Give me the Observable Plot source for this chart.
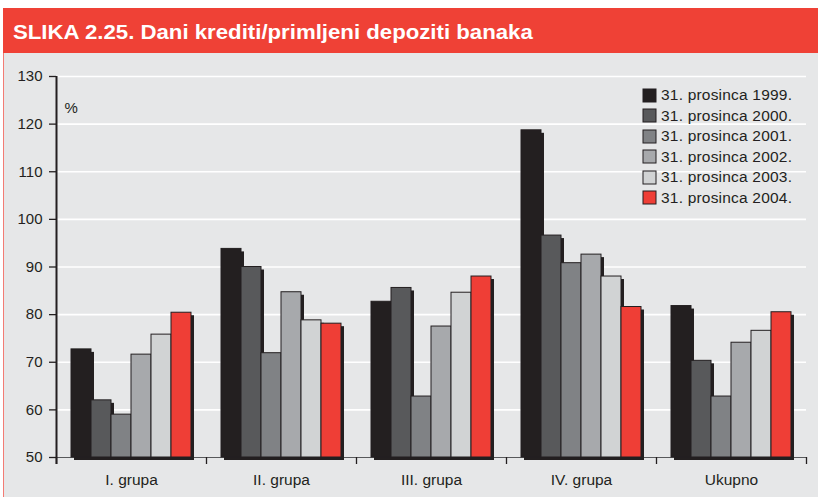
<!DOCTYPE html>
<html>
<head>
<meta charset="utf-8">
<script src="https://cdn.jsdelivr.net/npm/d3@7"></script>
<script src="https://cdn.jsdelivr.net/npm/@observablehq/plot@0.6"></script>
<style>
  html, body { margin: 0; padding: 0; background: #ffffff; }
  body { width: 818px; height: 497px; position: relative; overflow: hidden; font-family: "Liberation Sans", Arial, sans-serif; }
  #title { position: absolute; left: 3px; top: 8px; width: 815px; height: 45px; background: #ef4136; color: #fff;
    font-family: "Liberation Sans", Arial, sans-serif; font-weight: bold; font-size: 20px;
    box-sizing: border-box; padding-left: 9.5px; padding-top: 13px; line-height: 22px; white-space: nowrap; }
  #title span { display: inline-block; transform: scaleX(1.11); transform-origin: left center; }
  #panel { position: absolute; left: 3px; top: 53px; width: 815px; height: 444px; background: #e6e7e8; border-left: 1.5px solid #f37b74; box-sizing: border-box; }
  #chart { position: absolute; left: 0; top: 53px; }
  #legend { position: absolute; left: 643px; top: 85px; }
  #legend .lg-swatches { font-family: "Liberation Sans", Arial, sans-serif; font-size: 15.5px; color: #231f20; margin: 0; }
  #legend .lg-swatch { height: 20.5px; padding-bottom: 0; letter-spacing: 0.2px; }
  #legend .lg-swatch svg { margin-right: 5px; overflow: visible; }
  #legend .lg-swatch svg rect { stroke: #231f20; stroke-width: 1; }
</style>
</head>
<body>
<div id="title"><span>SLIKA 2.25. Dani krediti/primljeni depoziti banaka</span></div>
<div id="panel"></div>
<div id="chart"></div>
<div id="legend"></div>
<script>
const groups = ["I. grupa", "II. grupa", "III. grupa", "IV. grupa", "Ukupno"];
const years = ["31. prosinca 1999.", "31. prosinca 2000.", "31. prosinca 2001.", "31. prosinca 2002.", "31. prosinca 2003.", "31. prosinca 2004."];
const v1999 = [72.7, 93.8, 82.7, 118.7, 81.8];
const v2000 = [62.0, 90.0, 85.6, 96.6, 70.3];
const v2001 = [59.0, 71.9, 62.8, 90.8, 62.8];
const v2002 = [71.6, 84.7, 77.5, 92.6, 74.1];
const v2003 = [75.8, 78.8, 84.6, 88.0, 76.6];
const v2004 = [80.4, 78.1, 88.0, 81.6, 80.5];
const colors = ["#231f20", "#58595b", "#808285", "#a7a9ac", "#d1d3d4", "#ef3e36"];
const yTicks = [50, 60, 70, 80, 90, 100, 110, 120, 130];

const seriesValues = [v1999, v2000, v2001, v2002, v2003, v2004];
const data = years.flatMap((yr, si) => seriesValues[si].map((v, gi) => ({group: groups[gi], year: yr, value: v, gi, si})));

const slot = 0.8 / years.length;
const x1 = d => d.gi + 0.1 + d.si * slot;
const x2 = d => d.gi + 0.1 + (d.si + 1) * slot;

const chart = Plot.plot({
  width: 818,
  height: 444,
  marginLeft: 56,
  marginRight: 12,
  marginTop: 23,
  marginBottom: 40,
  style: {background: "transparent", fontFamily: "'Liberation Sans', Arial, sans-serif", fontSize: "15px", color: "#231f20", overflow: "visible"},
  x: {type: "linear", domain: [0, groups.length]},
  y: {domain: [50, 130]},
  color: {domain: years, range: colors},
  marks: [
    Plot.gridY({ticks: yTicks.slice(1), stroke: "#ffffff", strokeOpacity: 1, strokeWidth: 1.6}),
    Plot.ruleY([50], {stroke: "#58595b", strokeWidth: 1}),
    Plot.rectY(data, {x1, x2, y1: 50, y2: "value", fill: "#231f20", dx: 3, dy: 3}),
    Plot.rectY(data, {x1, x2, y1: 50, y2: "value", fill: "year", stroke: "#231f20", strokeWidth: 1}),
    Plot.axisY({ticks: yTicks, tickSize: 7, tickPadding: 7, label: null, stroke: "#231f20", strokeWidth: 1.3, fill: "#231f20", fontSize: 15}),
    Plot.ruleX([0], {stroke: "#231f20", strokeWidth: 2, insetBottom: -7}),
    Plot.axisX({ticks: d3.range(0, groups.length + 1), tickSize: 7, tickFormat: () => "", label: null, stroke: "#231f20", strokeWidth: 1.3}),
    Plot.axisX({ticks: groups.map((g, i) => i + 0.5), tickSize: 0, tickPadding: 16, tickFormat: v => groups[Math.floor(v)], label: null, fill: "#231f20", fontSize: 15.5}),
    Plot.text(["%"], {frameAnchor: "top-left", dx: 8, dy: 26, fill: "#231f20", fontSize: 15, textAnchor: "start"})
  ]
});
document.getElementById("chart").append(chart);

const legend = Plot.legend({
  color: {domain: years, range: colors},
  legend: "swatches",
  columns: 1,
  swatchSize: 13,
  className: "lg"
});
document.getElementById("legend").append(legend);
</script>
</body>
</html>
